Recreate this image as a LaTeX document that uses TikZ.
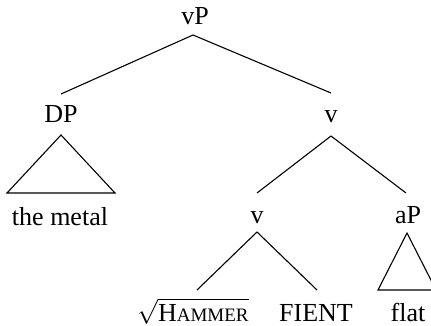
\documentclass[tikz,border=0pt]{standalone}
\usepackage{fontspec}
\setmainfont{Liberation Serif}
\tikzset{
  lbl/.style={anchor=base, inner sep=0pt, font=\fontsize{26}{30}\selectfont},
  edge/.style={line width=1.1pt, line join=miter},
}
\newcommand{\smcp}[1]{{\fontsize{19}{21}\selectfont #1}}
\begin{document}
\begin{tikzpicture}[x=1pt, y=-1pt]
\useasboundingbox (0,0) rectangle (431,326);
% labels
\node[lbl] (vP) at (195,25) {vP};
\node[lbl] (DP) at (61,123) {DP};
\node[lbl] (v1) at (331,123) {v};
\node[lbl] (metal) at (60,225) {the metal};
\node[lbl] (v2) at (257,223) {v};
\node[lbl] (aP) at (408,223) {aP};
\node[lbl] (hammer) at (193,321) {$\sqrt{\hbox{H\smcp{AMMER}}}$};
\node[lbl] (fient) at (316,321) {FIENT};
\node[lbl] (flat) at (408,321) {flat};
% branches
\draw[edge] ([xshift=-2,yshift=-10]vP.base) -- ([yshift=29]DP.base);
\draw[edge] ([xshift=-2,yshift=-10]vP.base) -- ([yshift=30]v1.base);
\draw[edge] ([yshift=-13]v1.base) -- ([yshift=30]v2.base);
\draw[edge] ([yshift=-13]v1.base) -- ([xshift=-2,yshift=30]aP.base);
\draw[edge] ([yshift=-9]v2.base) -- ([xshift=4,yshift=31]hammer.base);
\draw[edge] ([yshift=-9]v2.base) -- ([xshift=1,yshift=31]fient.base);
% triangles
\draw[edge] ([yshift=-12]DP.base) -- ([xshift=-53,yshift=32]metal.base)
  -- ([xshift=55,yshift=32]metal.base) -- cycle;
\draw[edge] ([xshift=-1,yshift=-10]aP.base) -- ([xshift=-30,yshift=31]flat.base)
  -- ([xshift=28,yshift=31]flat.base) -- cycle;
\end{tikzpicture}
\end{document}
